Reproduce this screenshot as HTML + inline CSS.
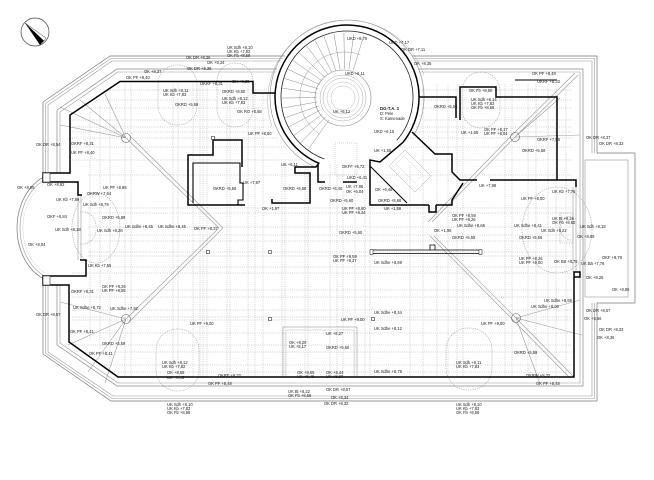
<!DOCTYPE html>
<html><head><meta charset="utf-8">
<style>
html,body{margin:0;padding:0;background:#fff;}
svg{display:block;}
.t{font-family:"Liberation Sans",sans-serif;font-size:4.1px;fill:#1a1a1a;}
.tb{font-family:"Liberation Sans",sans-serif;font-size:4.3px;fill:#111;font-weight:bold;}
</style></head>
<body>
<svg width="654" height="480" viewBox="0 0 654 480" xmlns="http://www.w3.org/2000/svg">
<rect width="654" height="480" fill="#fff"/>

<!-- grid dotted lines -->
<g stroke="#a6a6a6" stroke-width="0.5" stroke-dasharray="1 1.2" fill="none">
<path d="M125,84V376 M131,84V376 M173,84V376 M178,84V376 M193,84V376 M200,84V376 M203,84V376 M207,84V376 M227,84V376 M230,84V376 M248,84V376 M255,84V376 M263,94V376 M282,165V376 M285,165V376 M305,165V376 M308,165V376 M330,165V376 M337,165V376 M343,165V376 M355,165V376 M365,165V376 M370,205V376 M410,165V376 M423,84V376 M437,84V376 M448,84V376 M457,84V376 M463,84V376 M505,84V376 M512,84V376 M528,84V376 M536,84V376 M548,84V376 M556,84V376 M566,84V376 M90,112V340 M100,106V350 M110,90V365"/>
<path d="M108,90H268 M422,90H572 M94,100H268 M422,100H572 M82,108H268 M422,108H572 M72,120H270 M420,120H572 M72,127H272 M416,127H572 M72,132H274 M414,132H572 M72,138H278 M408,138H572 M72,147H286 M400,147H572 M72,160H300 M420,160H572 M88,175H572 M88,208H572 M88,213H572 M88,227H572 M88,235H572 M88,241H572 M88,252H572 M88,256H572 M88,267H572 M72,273H572 M72,290H572 M72,297H572 M72,310H572 M72,317H572 M72,320H572 M72,333H572 M73,345H572 M83,352H572 M102,365H572 M112,372H572"/>
</g>

<!-- dotted arches / ellipses -->
<g stroke="#a0a0a0" stroke-width="0.6" stroke-dasharray="1.3 1" fill="none">
<rect x="158" y="65" width="39" height="60" rx="19"/>
<rect x="217" y="63" width="36" height="64" rx="18"/>
<rect x="462" y="72" width="38" height="56" rx="19"/>
<rect x="156" y="329" width="43" height="62" rx="21"/>
<rect x="446" y="328" width="46" height="62" rx="22"/>
<ellipse cx="96" cy="228" rx="24" ry="35"/>
<ellipse cx="557" cy="230" rx="35" ry="43"/>
<path d="M80,212 A14,14 0 0 1 96,226 M80,244 A14,14 0 0 0 96,230 M560,213 H573 V243 H560 Z M560,228 A12,12 0 0 1 572,216 M560,228 A12,12 0 0 0 572,240"/>
</g>

<!-- diagonal hip / rafter lines -->
<g stroke="#999" stroke-width="0.6" fill="none">
<path d="M80,100 L126,138 M105,94 L126,138 M60,107 L126,138 M60,125 L126,138 M126,138 L219,228 L126,319 M130,136 L223,228 L130,321 M126,319 L60,302 M126,319 L68,345 M126,319 L88,372 M126,319 L105,383"/>
<path d="M578,75 L515,137 L432,222 M575,73 L512,135 L428,222 M515,137 L560,98 M515,137 L580,135 M434,236 L516,318 L574,377 M430,236 L513,320 L570,378 M516,318 L580,300 M516,318 L582,335 M516,318 L540,384"/>
<circle cx="126" cy="138" r="4.5" stroke="#666"/>
<circle cx="126" cy="319" r="4.5" stroke="#666"/>
<circle cx="515" cy="137" r="4.5" stroke="#666"/>
<circle cx="516" cy="318" r="4.5" stroke="#666"/>
</g>

<!-- outer outline groups -->
<g fill="none">
<path stroke="#777" stroke-width="0.7" d="M285,56 L110,56 L43,102 L43,173 M43,285 L43,354 L111,401 L597,401 L597,303 L635,303 L635,153 L597,153 L597,56 L412,56"/>
<path stroke="#999" stroke-width="0.6" d="M283,58.5 L111,58.5 L45.5,103.5 L45.5,173 M45.5,285 L45.5,353 L112,398.5 L594.5,398.5 L594.5,303 M594.5,153 L594.5,58.5 L414,58.5"/>
<path stroke="#999" stroke-width="0.6" d="M281,61 L112,61 L48,105 L48,173 M48,285 L48,352 L113,396 L592,396 L592,303 M592,153 L592,61 L416,61"/>
<path stroke="#888" stroke-width="0.7" d="M277,69 L117,69 L57,110 L57,173 M57,285 L57,345 L117,386 L583,386 L583,69 L418,69"/>
<path stroke="#999" stroke-width="0.6" d="M276,72 L118,72 L60,112 L60,173 M60,285 L60,343 L118,383 L580,383 L580,72 L419,72"/>
<rect x="585" y="160" width="43" height="137" stroke="#999" stroke-width="0.6"/>
<path stroke="#999" stroke-width="0.6" d="M573,187 V272 M576,187 V272 M78,195 V260 M81,195 V260"/>
<rect x="283" y="327" width="74" height="50" stroke="#999" stroke-width="0.6"/>
<rect x="286" y="330" width="68" height="47" stroke="#bbb" stroke-width="0.5"/>
</g>

<!-- left bay arcs -->
<defs><clipPath id="cb"><rect x="0" y="150" width="45" height="150"/></clipPath></defs>
<g clip-path="url(#cb)" fill="none">
<ellipse cx="60" cy="228" rx="43" ry="55" stroke="#777" stroke-width="0.7"/>
<ellipse cx="60" cy="228" rx="40" ry="52" stroke="#999" stroke-width="0.6"/>
<ellipse cx="60" cy="228" rx="37" ry="49" stroke="#aaa" stroke-width="0.5" stroke-dasharray="1 1"/>
</g>

<!-- staircase -->
<g fill="none">
<path stroke="#888" stroke-width="0.6" d="M413.7,135.5 A77,77 0 1 0 314.5,166.8"/>
<path stroke="#aaa" stroke-width="0.5" d="M271.8,126 A80,80 0 0 1 424,75"/>
<path stroke="#000" stroke-width="1.5" d="M403,142.3 A72,72 0 1 0 319.4,163.5"/>
<path stroke="#222" stroke-width="0.8" d="M396.8,140.3 A66,66 0 1 0 324.4,159"/>
<circle cx="343" cy="98" r="28" stroke="#888" stroke-width="0.6"/>
<circle cx="343" cy="98" r="23" stroke="#aaa" stroke-width="0.5"/>
<circle cx="343" cy="98" r="20" stroke="#aaa" stroke-width="0.5"/>
<circle cx="343" cy="98" r="16" stroke="#bbb" stroke-width="0.5"/>
<circle cx="343" cy="98" r="12" stroke="#bbb" stroke-width="0.5"/>
<path stroke="#999" stroke-width="0.5" d="M319.2,133.9 A45,45 0 0 1 360.4,54.7"/>
<path stroke="#8a8a8a" stroke-width="0.5" d="M328.9,119.9L308.3,149.4 M325.5,117.1L300.5,143 M322.6,113.9L293.9,135.5 M320.3,110.1L288.5,127 M318.5,106.1L284.5,117.9 M317.4,101.9L282,108.1 M317,97.5L281,98.1 M317.3,93.1L281.6,88.1 M318.2,88.8L283.8,78.3 M319.8,84.7L287.5,69 M322.1,80.9L292.6,60.3 M324.9,77.5L299,52.5 M328.1,74.6L306.5,45.9 M331.9,72.3L315,40.5 M335.9,70.5L324.1,36.5 M340.1,69.4L333.9,34 M344.5,69L343.9,33 M348.9,69.3L353.9,33.6 M353.2,70.2L363.7,35.8"/>
<rect x="335" y="143" width="22" height="32" stroke="#aaa" stroke-width="0.5" stroke-dasharray="1 1"/>
<polygon points="405,150 431,176 415,192 389,166" stroke="#aaa" stroke-width="0.5"/>
<polygon points="404,156 423,175 415,183 396,164" stroke="#ccc" stroke-width="0.4"/>
</g>

<!-- thick walls -->
<g fill="none" stroke="#000" stroke-width="1.5" stroke-linejoin="miter">
<path d="M275,93 L253,93 L253,81.5 L120,81.5 L70,115 L70,173 L43,173 L43,182 L78,182 L78,195 L82,195"/>
<path d="M80,260 L86,260 L86,276 L43,276 L43,285 L69,285 L69,342 L118,377 L574,377 L574,272 L580,272 L580,277 L574,277"/>
<path d="M242,167 L242,140 L213,140 L213,155 L188,155 L188,205 L245,205"/>
<path stroke-width="1.1" d="M193,203 L193,163 L240,163 L240,183 L243,183 L243,200 L238,200 L238,205"/>
<path d="M319,163 L316,167 L295,167 L295,173 L310,173 L310,203 L272,203 L272,199"/>
<path d="M318,165 L318,182 L325,182 M343,182 L357,182"/>
<path d="M403,142.3 L380,162 L370,160 L370,205 L410,205"/>
<path stroke-width="1" d="M370,166 L407,203"/>
<path d="M412,132 L435,154 L452,154 L452,172 L460,180 L477,180 M490,180 L576,180 L576,187"/>
<path d="M463,183 L452,200 L452,205 L436,205 M429,205 L410,205 M429,205 L429,212 L436,212 L436,205"/>
<path d="M419,97 L456,97 L456,118 M460,120 L460,87 L496,87 L496,97 L557,97 L557,180"/>
<path stroke-width="1.1" d="M515,80 L557,80"/>
<path stroke-width="0.8" d="M371,250 H481 M371,253.5 H481 M430,250 V245 H435 V250"/>
</g>
<g fill="#fff" stroke="#333" stroke-width="0.6">
<rect x="43" y="173" width="7" height="9"/>
<rect x="43" y="276" width="7" height="9"/>
<rect x="206.5" y="250.5" width="3" height="3"/>
<rect x="268.5" y="250.5" width="3" height="3"/>
<rect x="268.5" y="317.5" width="3" height="3"/>
<rect x="371.5" y="317.5" width="3" height="3"/>
<rect x="211.5" y="136.5" width="3" height="3"/>
<rect x="370" y="249.5" width="3" height="5"/>
<rect x="479" y="249.5" width="3" height="5"/>
</g>

<!-- compass -->
<circle cx="35" cy="32" r="14" fill="none" stroke="#444" stroke-width="0.7"/>
<polygon points="25,23 44,41 40,45" fill="#000"/>
<polygon points="25,23 44,41 46,38" fill="#fff" stroke="#000" stroke-width="0.4"/>

<!-- labels -->
<g class="t">
<text x="227" y="49">UK Sdh +8,10</text><text x="227" y="53">UK Kb  +7,83</text><text x="227" y="57">OK Fb  +8,58</text>
<text x="186" y="59">OK DR +8,36</text><text x="207" y="64">OK +8,34</text><text x="144" y="73">OK +8,37</text>
<text x="187" y="70">OK DR +8,36</text><text x="126" y="79">OK PF +8,40</text><text x="200" y="85">OKRF +8,31</text>
<text x="232" y="83">OK +8,38</text><text x="163" y="92">UK Sdh +8,11</text><text x="163" y="96">UK Kb  +7,83</text>
<text x="222" y="93">OKRD +8,60</text><text x="222" y="100">UK Sdh +8,12</text><text x="222" y="104">UK Kb  +7,83</text>
<text x="175" y="106">OKRD +5,58</text><text x="237" y="113">OK RO +5,58</text><text x="248" y="135">UK PF +8,60</text>
<text x="36" y="146">OK DR +8,54</text><text x="71" y="145">OKRF +8,31</text><text x="71" y="154">UK PF +8,40</text>
<text x="281" y="166">UK +6,11</text><text x="243" y="184">UK +7,97</text><text x="213" y="190">OKRD +5,58</text>
<text x="283" y="190">OKRD +5,58</text><text x="262" y="210">OK +1,97</text><text x="17" y="189">OK +8,05</text>
<text x="47" y="186">OK +8,92</text><text x="87" y="195">OKRW +7,64</text><text x="103" y="189">UK PF +8,95</text>
<text x="56" y="201">UK Kb +7,89</text><text x="83" y="206">UK Sdh +8,79</text><text x="47" y="218">OKF +8,84</text>
<text x="102" y="219">OKRD +5,89</text><text x="55" y="231">UK Sdh +8,18</text><text x="97" y="232">UK Sdh +8,26</text>
<text x="125" y="228">UK Sdhe +8,45</text><text x="158" y="228">UK Sdhe +8,45</text><text x="194" y="230">OK PF +8,37</text>
<text x="28" y="246">OK +8,04</text><text x="88" y="267">UK Kb +7,55</text><text x="102" y="288">OK PF +8,26</text>
<text x="102" y="292">UK PF +8,55</text><text x="71" y="293">OKRF +8,31</text><text x="73" y="309">UK Sdhe +8,72</text>
<text x="110" y="310">UK Sdhe +7,92</text><text x="36" y="316">OK DR +8,57</text><text x="70" y="333">OK PF +8,41</text>
<text x="102" y="345">OKRD +5,59</text><text x="89" y="355">OK PF +8,41</text><text x="190" y="325">UK PF +9,00</text>
<text x="162" y="364">UK Sdh +8,12</text><text x="162" y="368">UK Kb  +7,82</text><text x="167" y="374">OK +8,58</text>
<text x="167" y="379">UK +8,45</text><text x="218" y="377">OKRF +8,32</text><text x="208" y="385">OK PF +8,48</text>
<text x="167" y="406">UK Sdh +8,10</text><text x="167" y="410">UK Kb  +7,83</text><text x="167" y="414">OK Fb  +8,58</text>
<text x="289" y="344">OK +8,29</text><text x="289" y="348">UK +8,17</text><text x="297" y="374">OK +8,55</text>
<text x="297" y="378">UK +8,46</text><text x="288" y="393">UK Bl +8,22</text><text x="288" y="397">OK Fb +8,58</text>
<text x="326" y="391">OK DR +8,57</text><text x="331" y="399">OK +8,34</text><text x="324" y="405">OK DR +8,32</text>
<text x="326" y="374">OK +8,44</text><text x="326" y="378">UK +8,37</text><text x="326" y="349">OKRD +5,60</text>
<text x="326" y="335">UK +8,27</text><text x="341" y="321">UK PF +9,00</text><text x="374" y="314">UK Sdhe +8,44</text>
<text x="374" y="330">UK Sdhe +8,12</text><text x="374" y="373">UK Sdhe +8,78</text><text x="456" y="364">UK Sdh +8,11</text>
<text x="456" y="368">UK Kb  +7,83</text><text x="456" y="406">UK Sdh +8,10</text><text x="456" y="410">UK Kb  +7,83</text>
<text x="456" y="414">OK Fb  +8,58</text><text x="526" y="377">OKRW +8,32</text><text x="536" y="385">OK PF +8,48</text>
<text x="514" y="354">OKRD +5,59</text><text x="481" y="325">UK PF +9,00</text><text x="544" y="302">UK Sdhe +8,69</text>
<text x="531" y="308">UK Sdhe +8,00</text><text x="586" y="312">OK DR +8,57</text><text x="584" y="320">OK +8,56</text>
<text x="599" y="331">OK DR +8,33</text><text x="597" y="339">OK +8,36</text><text x="612" y="291">OK +8,86</text>
<text x="586" y="279">OK +8,26</text><text x="602" y="259">OKF +8,79</text><text x="554" y="263">OK Bä +8,76</text>
<text x="581" y="265">UK Bä +7,76</text><text x="519" y="260">UK PF +8,26</text><text x="519" y="264">UK PF +9,00</text>
<text x="519" y="239">OKRD +5,56</text><text x="541" y="232">UK Sdh +8,22</text><text x="514" y="227">UK Sdhe +8,41</text>
<text x="552" y="220">UK Bl +8,26</text><text x="552" y="224">OK Fb +8,60</text><text x="580" y="228">UK Sdh +8,18</text>
<text x="577" y="238">OK +8,89</text><text x="452" y="217">OK PF +8,59</text><text x="452" y="221">UK PF +8,26</text>
<text x="457" y="227">UK Sdhe +8,69</text><text x="434" y="232">OK +1,96</text><text x="452" y="239">OKRD +5,68</text>
<text x="339" y="234">OKRD +5,60</text><text x="333" y="258">OK PF +8,59</text><text x="333" y="262">UK PF +8,37</text>
<text x="374" y="264">UK Sdhe +8,69</text><text x="347" y="40">UKD +8,75</text><text x="389" y="44">UKD +7,17</text>
<text x="401" y="51">OK DR +7,11</text><text x="414" y="65">OK +8,35</text><text x="345" y="75">UKD +6,11</text>
<text x="333" y="113">UK +6,12</text><text x="374" y="133">UKD +6,10</text><text x="374" y="152">UK +1,65</text>
<text x="342" y="168">OKFF +6,72</text><text x="347" y="179">UKD +6,41</text><text x="319" y="190">OKRD +6,40</text>
<text x="346" y="188">UK +7,98</text><text x="346" y="193">OK +6,04</text><text x="375" y="191">OK +6,48</text>
<text x="330" y="202">OKRD +5,60</text><text x="378" y="202">OKRD +5,68</text><text x="342" y="210">UK PF +8,60</text>
<text x="342" y="214">UK PF +8,34</text><text x="384" y="210">UK +1,58</text><text x="434" y="108">OKRD +5,58</text>
<text x="469" y="92">OK Fb +8,60</text><text x="471" y="101">UK Sdh +8,14</text><text x="471" y="105">UK Kb  +7,83</text>
<text x="471" y="109">OK Fb  +8,55</text><text x="461" y="134">UK +1,65</text><text x="484" y="131">OK PF +8,27</text>
<text x="484" y="135">UK PF +8,04</text><text x="522" y="152">OKRD +5,58</text><text x="537" y="141">OKRF +7,88</text>
<text x="586" y="139">OK DR +8,37</text><text x="599" y="145">OK DR +8,33</text><text x="532" y="75">OK PF +8,48</text>
<text x="537" y="83">OKRF +8,33</text><text x="479" y="187">UK +7,98</text><text x="552" y="193">UK Kb +7,76</text>
<text x="521" y="200">UK PF +8,00</text>
</g>
<text class="tb" x="380" y="110">DG-T.A. 1</text>
<text class="t" x="380" y="115">D: Pele</text>
<text class="t" x="380" y="120">S: Kamenade</text>
</svg>
</body></html>
